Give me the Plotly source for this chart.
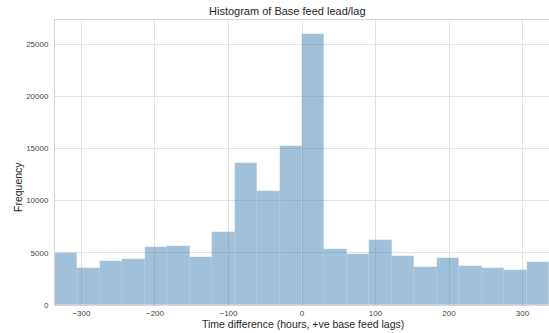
import plotly.graph_objects as go

# Histogram data
bin_start = -336.0
bin_end = 336.0
counts = [4970, 3500, 4200, 4390, 5510, 5640, 4590, 6970, 13570, 10960, 15220,
          25950, 5380, 4840, 6210, 4680, 3660, 4520, 3690, 3540, 3310, 4110]
x_ticks = [-300, -200, -100, 0, 100, 200, 300]
y_ticks = [0, 5000, 10000, 15000, 20000, 25000]

n = len(counts)
w = (bin_end - bin_start) / n
centers = [bin_start + w * (i + 0.5) for i in range(n)]

fig = go.Figure(go.Bar(
    x=centers, y=counts, width=[w] * n,
    marker=dict(color="steelblue", opacity=0.5,
                line=dict(color="rgba(255,255,255,0.2)", width=0.5)),
))

font = "Liberation Sans, Arial, sans-serif"
L, R, T, B = 55, 0, 20, 28
W, H = 549, 333
pw, ph = W - L - R, H - T - B

fig.update_layout(
    width=W, height=H,
    margin=dict(l=L, r=R, t=T, b=B, autoexpand=False),
    paper_bgcolor="white", plot_bgcolor="white",
    font=dict(family=font, color="#333333"),
    showlegend=False, bargap=0,
    annotations=[
        dict(text="Histogram of Base feed lead/lag", xref="paper", yref="paper",
             x=(287 - L) / pw, y=1 + (T - 11) / ph, xanchor="center", yanchor="middle",
             showarrow=False, font=dict(size=11, color="#262626")),
        dict(text="Time difference (hours, +ve base feed lags)", xref="paper", yref="paper",
             x=(302.5 - L) / pw, y=-(324 - (T + ph)) / ph, xanchor="center", yanchor="middle",
             showarrow=False, font=dict(size=10.5, color="#262626")),
        dict(text="Frequency", xref="paper", yref="paper", textangle=-90,
             x=-(L - 18) / pw, y=(T + ph - 187) / ph, xanchor="center", yanchor="middle",
             showarrow=False, font=dict(size=10.5, color="#262626")),
    ],
)
fig.update_xaxes(
    range=[bin_start, bin_end], tickvals=x_ticks,
    ticktext=[("\u2212" + str(abs(v))) if v < 0 else str(v) for v in x_ticks],
    tickfont=dict(size=8, color="#444444"), automargin=False,
    showgrid=True, gridcolor="#e3e3e3", gridwidth=1, zeroline=False,
    showline=True, linecolor="#d6d6d6", linewidth=1, mirror=True, ticks="",
)
fig.update_yaxes(
    range=[0, 27300], tickvals=y_ticks, ticktext=[str(v) for v in y_ticks],
    tickfont=dict(size=8, color="#444444"), automargin=False,
    showgrid=True, gridcolor="#e3e3e3", gridwidth=1, zeroline=False,
    showline=True, linecolor="#d6d6d6", linewidth=1, mirror=True, ticks="",
    ticklabelstandoff=4,
)

fig.write_html("out.html", config={"displayModeBar": False},
               post_script="document.body.style.margin='0';document.body.style.overflow='hidden';")
